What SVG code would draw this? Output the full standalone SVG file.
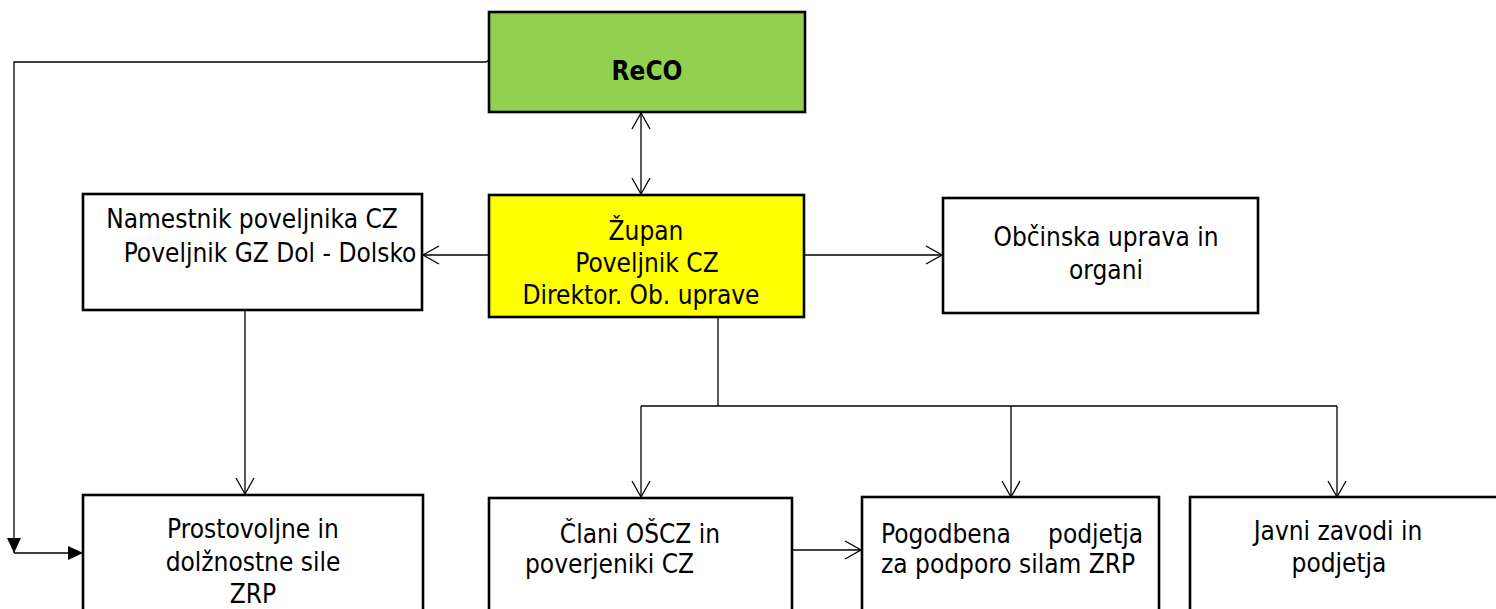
<svg xmlns="http://www.w3.org/2000/svg" width="1496" height="609" viewBox="0 0 1496 609">
<style>
.box{stroke:#000;stroke-width:2.6;fill:#fff}
.t{font-family:"DejaVu Sans Condensed","DejaVu Sans",sans-serif;font-stretch:condensed;font-size:26px;fill:#000}
.c{text-anchor:middle}
.ln{stroke:#000;stroke-width:1.3;fill:none}
</style>
<defs>
<marker id="open" viewBox="-1 -1 18 20" refX="16" refY="9" markerWidth="18" markerHeight="20" markerUnits="userSpaceOnUse" orient="auto-start-reverse" overflow="visible">
<path d="M0,0 L16,9 L0,18" fill="none" stroke="#000" stroke-width="1.3"/>
</marker>
<marker id="fill" viewBox="0 0 15 14" refX="15" refY="7" markerWidth="15" markerHeight="14" markerUnits="userSpaceOnUse" orient="auto">
<path d="M0,0 L15,7 L0,14 z" fill="#000"/>
</marker>
</defs>
<g id="connectors">
<path class="ln" d="M641,113 L641,194" marker-start="url(#open)" marker-end="url(#open)"/>
<path class="ln" d="M489,255 L423,255" marker-end="url(#open)"/>
<path class="ln" d="M804,255 L942,255" marker-end="url(#open)"/>
<path class="ln" d="M245,310 L245,494" marker-end="url(#open)"/>
<path class="ln" d="M718,317 L718,406"/>
<path class="ln" d="M641,406 L1337,406"/>
<path class="ln" d="M641,406 L641,497" marker-end="url(#open)"/>
<path class="ln" d="M1011,406 L1011,497" marker-end="url(#open)"/>
<path class="ln" d="M1337,406 L1337,497" marker-end="url(#open)"/>
<path class="ln" d="M792,550 L861,550" marker-end="url(#open)"/>
<path class="ln" d="M489,60 L486,62 L14,62 L14,553" marker-end="url(#fill)"/>
<path class="ln" d="M14,553 L83,553" marker-end="url(#fill)"/>
</g>
<g id="reco">
<rect x="489" y="12" width="316" height="100" fill="#92D050" stroke="#000" stroke-width="2.6"/>
<text class="t c" x="647" y="80" font-weight="bold">ReCO</text>
</g>
<g id="zupan">
<rect x="489" y="195" width="315" height="122" fill="#FFFF00" stroke="#000" stroke-width="2.6"/>
<text class="t c" x="646" y="240">Župan</text>
<text class="t c" x="647" y="272">Poveljnik CZ</text>
<text class="t c" x="641" y="304">Direktor. Ob. uprave</text>
</g>
<g id="namestnik">
<rect class="box" x="83" y="194" width="339" height="116"/>
<text class="t c" x="252" y="228">Namestnik poveljnika CZ</text>
<text class="t c" x="270" y="262">Poveljnik GZ Dol - Dolsko</text>
</g>
<g id="obcinska">
<rect class="box" x="943" y="198" width="315" height="115"/>
<text class="t c" x="1106" y="246">Občinska uprava in</text>
<text class="t c" x="1106" y="279">organi</text>
</g>
<g id="prostovoljne">
<rect class="box" x="83" y="495" width="340" height="130"/>
<text class="t c" x="253" y="538">Prostovoljne in</text>
<text class="t c" x="253" y="571">dolžnostne sile</text>
<text class="t c" x="253" y="603">ZRP</text>
</g>
<g id="clani">
<rect class="box" x="489" y="498" width="303" height="130"/>
<text class="t c" x="640" y="543">Člani OŠCZ in</text>
<text class="t" x="525" y="573">poverjeniki CZ</text>
</g>
<g id="pogodbena">
<rect class="box" x="862" y="497" width="297" height="130"/>
<text class="t" x="881" y="543">Pogodbena</text>
<text class="t" x="1143" y="543" text-anchor="end">podjetja</text>
<text class="t" x="881" y="573">za podporo silam ZRP</text>
</g>
<g id="javni">
<rect class="box" x="1190" y="497" width="320" height="130"/>
<text class="t c" x="1338" y="540">Javni zavodi in</text>
<text class="t c" x="1339" y="572">podjetja</text>
</g>
</svg>
